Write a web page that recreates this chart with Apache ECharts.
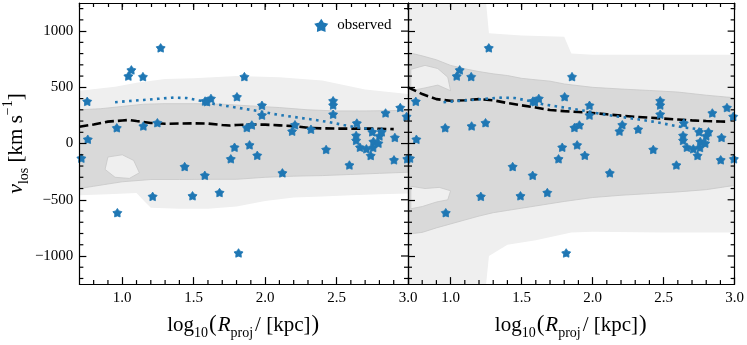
<!DOCTYPE html>
<html>
<head>
<meta charset="utf-8">
<script src="https://cdn.jsdelivr.net/npm/echarts@6/dist/echarts.min.js"></script>
<style>
html, body { margin: 0; padding: 0; background: #fff; }
#chart { width: 747px; height: 345px; }
</style>
</head>
<body>
<div id="chart"></div>
<script>
// observed satellites: log10(R_proj/kpc) and v_los (km/s)
const obsLogR = [0.714, 0.755, 0.759, 0.962, 0.966, 1.043, 1.064, 1.145, 1.148, 1.213, 1.246, 1.269,
  1.437, 1.492, 1.578, 1.580, 1.593, 1.621, 1.681, 1.760, 1.786, 1.803, 1.814, 1.855, 1.872, 1.891,
  1.907, 1.945, 1.978, 1.978, 2.121, 2.189, 2.209, 2.321, 2.427, 2.476, 2.476, 2.476, 2.590, 2.637,
  2.637, 2.642, 2.664, 2.709, 2.739, 2.750, 2.756, 2.758, 2.793, 2.800, 2.816, 2.843, 2.902, 2.908,
  2.946, 2.990, 2.995]
const obsVlos = [-130, 375, 38, 140, -615, 600, 655, 595, 156, -470, 185, 851,
  -205, -465, -283, 378, 372, 401, -436, -136, -33, 416, -973, 595, 142, -12,
  165, -105, 340, 253, -261, 110, 167, 127, -53, 381, 342, 261, -191, 72,
  28, 182, -33, -47, -107, 104, -35, 18, 3, 67, 104, 272, -145, 54,
  320, 241, -136]

// running median of the observed sample (dotted, same in both panels)
const obsMedX = [0.95, 1.05, 1.15, 1.25, 1.35, 1.45, 1.55, 1.65, 1.75, 1.85, 1.95, 2.05, 2.15, 2.25, 2.35, 2.45, 2.55, 2.65, 2.75, 2.8]
const obsMedV = [368, 378, 388, 398, 408, 405, 380, 350, 330, 310, 290, 265, 245, 228, 210, 190, 165, 142, 127, 120]

// simulated medians (dashed)
const simLeftX = [0.7, 0.8, 0.9, 1.0, 1.05, 1.1, 1.2, 1.3, 1.4, 1.5, 1.6, 1.7, 1.75, 1.8, 1.9, 2.0, 2.1, 2.2, 2.3, 2.4, 2.5, 2.6, 2.7, 2.8, 2.9]
const simLeftV = [150, 170, 195, 205, 210, 200, 183, 176, 178, 180, 178, 165, 160, 165, 170, 168, 162, 155, 140, 135, 133, 133, 133, 132, 128]
const simRightX = [0.7, 0.8, 0.9, 1.0, 1.1, 1.2, 1.3, 1.4, 1.5, 1.6, 1.7, 1.8, 1.9, 2.0, 2.1, 2.2, 2.3, 2.4, 2.5, 2.6, 2.7, 2.8, 2.9, 2.95]
const simRightV = [500, 440, 395, 380, 385, 395, 385, 360, 340, 320, 298, 288, 280, 272, 260, 248, 238, 230, 222, 214, 206, 200, 196, 195]

// contour bands [logR, v]
const leftLightTop = [[0.7, 470], [0.95, 505], [1.1, 540], [1.3, 575], [1.5, 580], [1.8, 600], [2.1, 590], [2.4, 560], [2.7, 480], [3.0, 440]]
const leftLightBot = [[0.7, -460], [0.9, -450], [1.1, -440], [1.16, -520], [1.2, -570], [1.4, -580], [1.6, -580], [1.8, -560], [2.0, -510], [2.2, -480], [2.4, -470], [2.6, -460], [2.8, -450], [3.0, -445]]
const leftMidTop = [[0.7, 300], [0.85, 310], [1.0, 330], [1.15, 350], [1.3, 355], [1.5, 355], [1.7, 350], [1.9, 335], [2.1, 320], [2.3, 300], [2.5, 290], [2.7, 290], [3.0, 295]]
const leftMidBot = [[0.7, -400], [0.8, -380], [0.9, -360], [1.0, -340], [1.2, -320], [1.4, -320], [1.6, -318], [1.8, -318], [2.0, -300], [2.2, -290], [2.4, -285], [2.6, -275], [2.8, -265], [3.0, -255]]
const leftHole = [[0.9, -120], [1.0, -100], [1.08, -150], [1.12, -260], [1.05, -310], [0.95, -300], [0.88, -230]]

const rightLightTop = [[0.7, 1250], [1.25, 1250], [1.27, 980], [1.5, 960], [1.8, 950], [1.85, 800], [2.0, 790], [2.5, 790], [3.0, 790]]
const rightLightBot = [[0.7, -1250], [1.25, -1250], [1.27, -1000], [1.4, -900], [1.6, -860], [1.85, -790], [2.0, -785], [2.5, -790], [3.0, -790]]
const rightMidTop = [[0.7, 810], [0.8, 780], [0.9, 745], [1.0, 695], [1.1, 665], [1.2, 640], [1.3, 620], [1.4, 605], [1.5, 580], [1.6, 567], [1.7, 555], [1.8, 530], [2.0, 500], [2.2, 485], [2.4, 472], [2.6, 458], [2.8, 430], [3.0, 407]]
const rightMidBot = [[0.7, -805], [0.8, -790], [0.9, -750], [1.0, -715], [1.1, -680], [1.2, -645], [1.3, -615], [1.4, -595], [1.5, -575], [1.6, -555], [1.7, -535], [1.8, -515], [2.0, -480], [2.2, -460], [2.4, -445], [2.6, -430], [2.8, -410], [3.0, -372]]
const rightHoleUp = [[0.72, 660], [0.82, 695], [0.91, 667], [0.98, 590], [1.0, 470], [0.91, 520], [0.82, 495], [0.72, 470]]
const rightHoleLow = [[0.72, -380], [0.82, -400], [0.92, -390], [1.0, -420], [0.98, -500], [0.9, -520], [0.8, -560], [0.72, -580]]

// axis ranges and ticks
const xRange = [0.7, 3.0]
const yRange = [-1250, 1250]
const xMajorTicks = [1.0, 1.5, 2.0, 2.5, 3.0]
const xMinorTicks = [0.8, 0.9, 1.1, 1.2, 1.3, 1.4, 1.6, 1.7, 1.8, 1.9, 2.1, 2.2, 2.3, 2.4, 2.6, 2.7, 2.8, 2.9]
const yMajorTicks = [-1000, -500, 0, 500, 1000]
const yMinorTicks = [-1200, -1100, -900, -800, -700, -600, -400, -300, -200, -100,
  100, 200, 300, 400, 600, 700, 800, 900, 1100, 1200]

const FONT = 'Liberation Serif'
const BLUE = '#1f77b4'
const STAR = 'path://M50 0 L67 26.5 L97.6 34.5 L77.6 59 L79.4 90.5 L50 79 L20.6 90.5 L22.4 59 L2.4 34.5 L33 26.5 Z'

const zip = (xs, ys) => xs.map((x, i) => [x, ys[i]])
const band = (top, bot) => top.concat(bot.slice().reverse())

const axisLine = { show: true, onZero: false, lineStyle: { color: '#000', width: 1.2 } }

const makeX = gridIndex => ({
  type: 'value', gridIndex, min: xRange[0], max: xRange[1], position: 'bottom',
  splitLine: { show: false }, z: 7, axisLine,
  axisTick: { show: true, inside: true, length: 7, customValues: xMajorTicks, lineStyle: { color: '#000', width: 1.2 } },
  axisLabel: {
    show: true, customValues: xMajorTicks, margin: 6, fontFamily: FONT, fontSize: 15, color: '#000',
    formatter: v => v.toFixed(1)
  },
  name: 'log{sub|10}{par|(}{it|R}{sub|proj}{txt|/ [kpc]}{par|)}',
  nameLocation: 'middle',
  nameGap: 14,
  nameTextStyle: {
    fontFamily: FONT, fontSize: 21, color: '#000', lineHeight: 30,
    rich: {
      sub: { fontFamily: FONT, fontSize: 14, lineHeight: 12, verticalAlign: 'bottom', color: '#000' },
      it: { fontFamily: FONT, fontSize: 21, fontStyle: 'italic', color: '#000' },
      txt: { fontFamily: FONT, fontSize: 21, color: '#000', padding: [0, 0, 0, 2] },
      par: { fontFamily: FONT, fontSize: 23, color: '#000', padding: [0, 1, 0, 1] }
    }
  }
})

// top border with regular 0.1 ticks counted from min
const makeXTop = gridIndex => ({
  type: 'value', gridIndex, min: xRange[0], max: xRange[1], position: 'top', interval: 0.1,
  splitLine: { show: false }, z: 7, axisLine,
  axisTick: { show: true, inside: true, length: 4, lineStyle: { color: '#000', width: 1.2 } },
  axisLabel: { show: false }
})

const makeY = (gridIndex, withLabels) => {
  const ax = {
    type: 'value', gridIndex, min: yRange[0], max: yRange[1], position: 'left',
    splitLine: { show: false }, z: 7, axisLine,
    axisTick: { show: true, inside: true, length: 7, customValues: yMajorTicks, lineStyle: { color: '#000', width: 1.2 } },
    axisLabel: {
      show: withLabels, customValues: yMajorTicks, margin: 6, fontFamily: FONT, fontSize: 15, color: '#000',
      formatter: v => String(v).replace('-', '\u2212')
    }
  }
  if (withLabels) {
    Object.assign(ax, {
      name: '{it|v}{sub|los} [km s{sup|\u22121}]',
      nameLocation: 'middle',
      nameRotate: 90,
      nameGap: 44,
      nameTextStyle: {
        fontFamily: FONT, fontSize: 21, color: '#000', lineHeight: 30,
        rich: {
          it: { fontFamily: FONT, fontSize: 22, fontStyle: 'italic', color: '#000' },
          sub: { fontFamily: FONT, fontSize: 14, lineHeight: 12, verticalAlign: 'bottom', color: '#000' },
          sup: { fontFamily: FONT, fontSize: 14, lineHeight: 20, verticalAlign: 'top', color: '#000' }
        }
      }
    })
  }
  return ax
}

const makeYRight = gridIndex => ({
  type: 'value', gridIndex, min: yRange[0], max: yRange[1], position: 'right',
  splitLine: { show: false }, z: 7, axisLine,
  axisTick: { show: false }, axisLabel: { show: false }
})

// remaining inward ticks, one custom item per tick, placed through the axis scales
// side: 'b' bottom, 't' top, 'l' left, 'r' right
const tickSeries = (idx, side, values, len) => ({
  type: 'custom', xAxisIndex: idx, yAxisIndex: idx, clip: false, silent: true, z: 9,
  data: values.map(v => side === 'b' ? [v, yRange[0]] : side === 't' ? [v, yRange[1]]
    : side === 'l' ? [xRange[0], v] : [xRange[1], v]),
  renderItem: (params, api) => {
    const p = api.coord([api.value(0), api.value(1)])
    let shape
    if (side === 'b') shape = { x1: p[0], y1: p[1], x2: p[0], y2: p[1] - len }
    else if (side === 't') shape = { x1: p[0], y1: p[1], x2: p[0], y2: p[1] + len }
    else if (side === 'l') shape = { x1: p[0], y1: p[1], x2: p[0] + len, y2: p[1] }
    else shape = { x1: p[0], y1: p[1], x2: p[0] - len, y2: p[1] }
    return { type: 'line', shape, style: { stroke: '#000', lineWidth: 1.2 } }
  }
})

const allTicks = idx => [
  tickSeries(idx, 'b', xMinorTicks, 4),
  tickSeries(idx, 't', xMajorTicks, 7),
  tickSeries(idx, 'l', yMinorTicks, 4),
  tickSeries(idx, 'r', yMajorTicks, 7),
  tickSeries(idx, 'r', yMinorTicks, 4)
]

// polygon drawn through the axis scales
const poly = (pts, idx, fill, stroke, z) => ({
  type: 'custom',
  xAxisIndex: idx, yAxisIndex: idx,
  clip: true, silent: true, z,
  data: [[pts[0][0], pts[0][1]]],
  renderItem: (params, api) => ({
    type: 'polygon',
    shape: { points: pts.map(p => api.coord(p)) },
    style: { fill, stroke: stroke || null, lineWidth: stroke ? 0.8 : 0 }
  })
})

const LIGHT = '#efefef'
const MID = '#d9d9d9'
const EDGE = '#c8c8c8'

const panelSeries = (idx, lightTop, lightBot, midTop, midBot, simX, simV, holes) => [
  poly(band(lightTop, lightBot), idx, LIGHT, null, 1),
  poly(band(midTop, midBot), idx, MID, EDGE, 2),
  ...holes.map(h => poly(h, idx, LIGHT, EDGE, 3)),
  {
    type: 'line', xAxisIndex: idx, yAxisIndex: idx, z: 4, symbol: 'none', silent: true,
    data: zip(simX, simV),
    lineStyle: { color: '#000', width: 2.6, type: [9, 4], cap: 'butt' }
  },
  {
    type: 'line', xAxisIndex: idx, yAxisIndex: idx, z: 4, symbol: 'none', silent: true,
    data: zip(obsMedX, obsMedV),
    lineStyle: { color: BLUE, width: 2.6, type: [2.6, 4.4], cap: 'butt' }
  },
  {
    name: 'observed', type: 'scatter', xAxisIndex: idx, yAxisIndex: idx, z: 5,
    symbol: STAR, symbolSize: 9, symbolKeepAspect: true,
    data: zip(obsLogR, obsVlos),
    itemStyle: { color: BLUE, borderColor: BLUE, borderWidth: 0.8, opacity: 1 }
  },
  ...allTicks(idx)
]

const chart = echarts.init(document.getElementById('chart'), null, { renderer: 'canvas' })
chart.setOption({
  animation: false,
  backgroundColor: '#fff',
  grid: [
    { left: 79, right: 339, top: 3, bottom: 55 },
    { left: 408, right: 10, top: 3, bottom: 55 }
  ],
  legend: {
    data: ['observed'],
    left: 310, top: 13,
    itemWidth: 22, itemHeight: 10, itemGap: 0,
    icon: STAR,
    textStyle: { fontFamily: FONT, fontSize: 15, color: '#000' },
    selectedMode: false
  },
  // x: 0,1 bottom; 2,3 top.  y: 0,1 left; 2,3 right
  xAxis: [makeX(0), makeX(1), makeXTop(0), makeXTop(1)],
  yAxis: [makeY(0, true), makeY(1, false), makeYRight(0), makeYRight(1)],
  series: [
    ...panelSeries(0, leftLightTop, leftLightBot, leftMidTop, leftMidBot, simLeftX, simLeftV, [leftHole]),
    ...panelSeries(1, rightLightTop, rightLightBot, rightMidTop, rightMidBot, simRightX, simRightV, [rightHoleUp, rightHoleLow])
  ]
})
</script>
</body>
</html>
